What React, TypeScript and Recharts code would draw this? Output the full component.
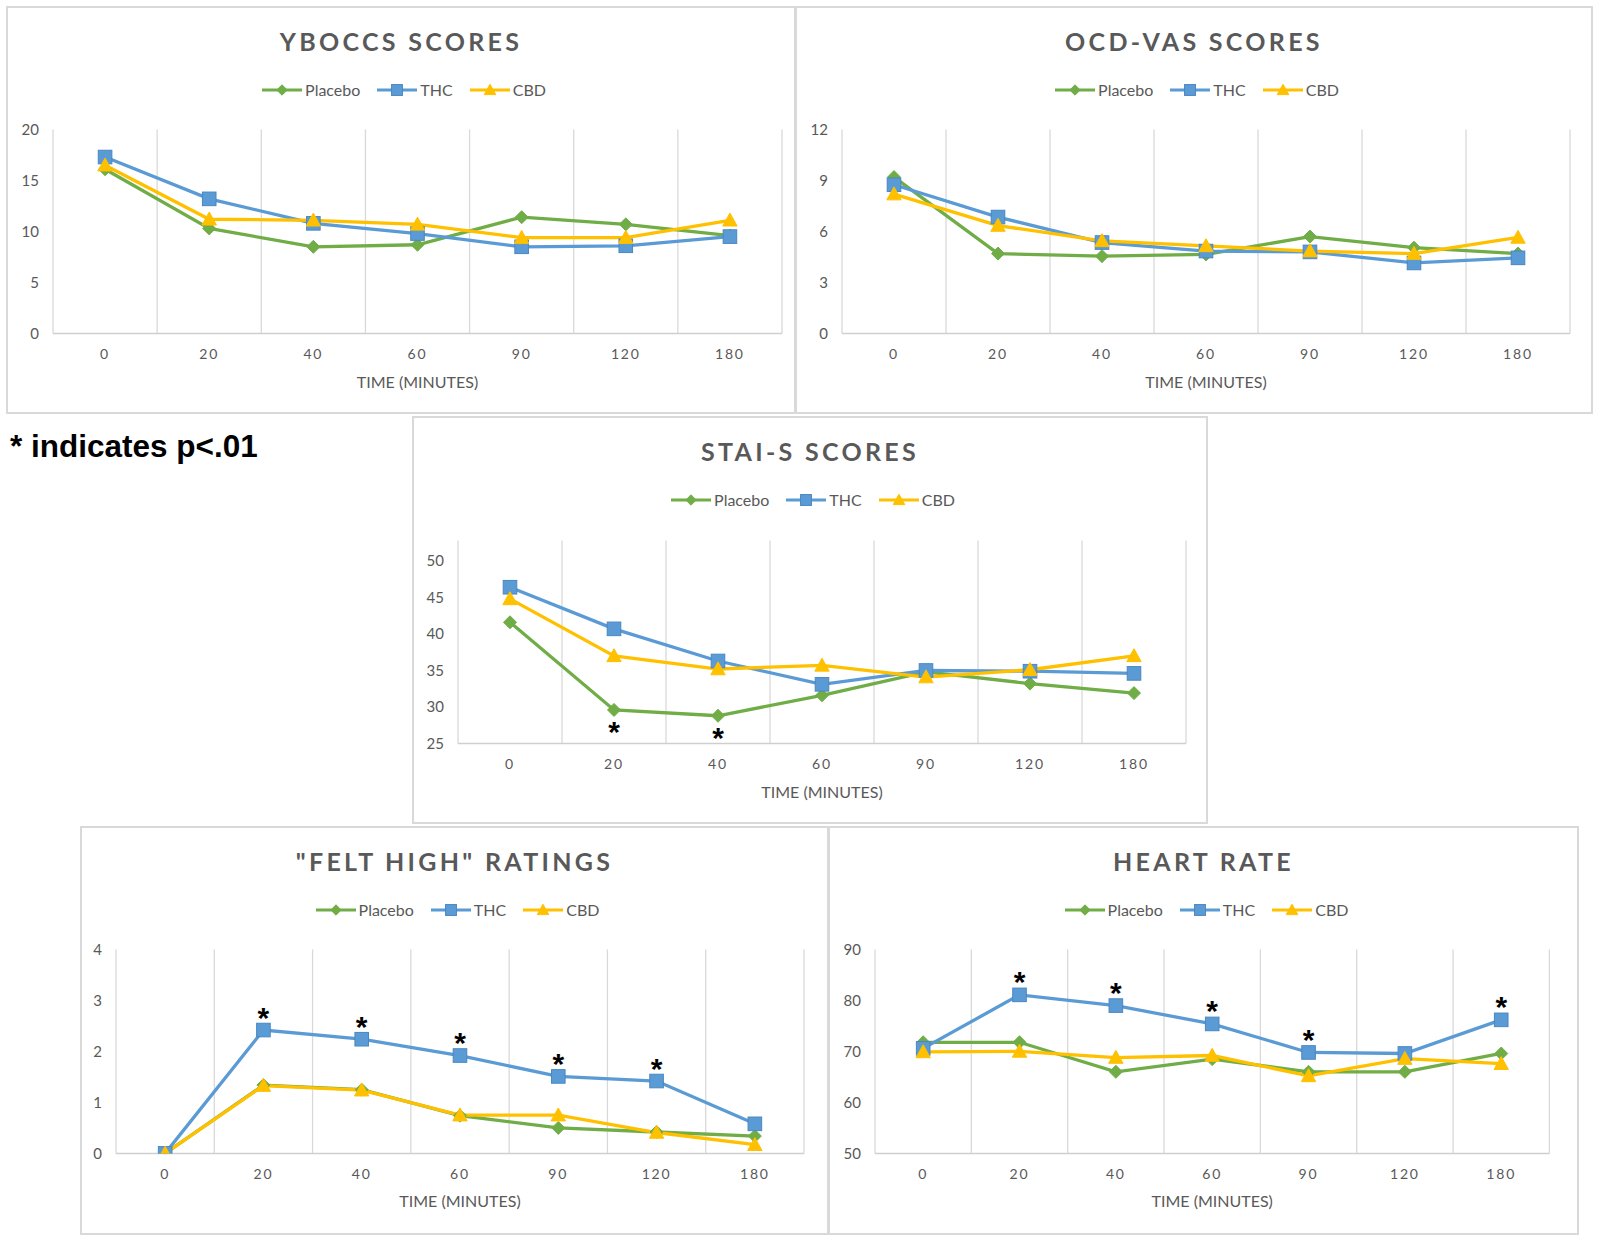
import React from 'react';
import { LineChart, Line, XAxis, YAxis, CartesianGrid } from 'recharts';

// ---------- data ----------
const timeLabels = ['0', '20', '40', '60', '90', '120', '180'];

const yboccsPlacebo = [16.1, 10.3, 8.5, 8.7, 11.4, 10.7, 9.6];
const yboccsTHC = [17.3, 13.2, 10.8, 9.8, 8.5, 8.6, 9.5];
const yboccsCBD = [16.5, 11.2, 11.1, 10.7, 9.4, 9.4, 11.1];

const ocdPlacebo = [9.2, 4.7, 4.55, 4.65, 5.7, 5.05, 4.7];
const ocdTHC = [8.75, 6.85, 5.35, 4.85, 4.8, 4.15, 4.45];
const ocdCBD = [8.2, 6.35, 5.45, 5.15, 4.85, 4.7, 5.65];

const staiPlacebo = [41.6, 29.6, 28.8, 31.6, 34.8, 33.2, 31.9];
const staiTHC = [46.4, 40.7, 36.3, 33.1, 35.0, 34.9, 34.6];
const staiCBD = [44.8, 37.0, 35.2, 35.7, 34.1, 35.1, 37.0];

const highPlacebo = [0, 1.34, 1.25, 0.74, 0.5, 0.42, 0.34];
const highTHC = [0, 2.42, 2.24, 1.92, 1.51, 1.42, 0.58];
const highCBD = [0, 1.33, 1.24, 0.75, 0.75, 0.41, 0.17];

const hrPlacebo = [71.8, 71.8, 66.0, 68.5, 66.0, 66.0, 69.6];
const hrTHC = [70.6, 81.1, 79.0, 75.4, 69.8, 69.6, 76.2];
const hrCBD = [69.9, 70.0, 68.8, 69.2, 65.2, 68.6, 67.6];

// significance flags (p<.01)
const noSig = [0, 0, 0, 0, 0, 0, 0];
const staiPlaceboSig = [0, 1, 1, 0, 0, 0, 0];
const highTHCSig = [0, 1, 1, 1, 1, 1, 0];
const hrTHCSig = [0, 1, 1, 1, 1, 0, 1];

// ---------- styles ----------
const COLORS = { placebo: '#70AD47', thc: '#5B9BD5', cbd: '#FFC000' };
const TEXT = '#595959';
const GRID = '#D9D9D9';
const FONT = 'Lato, "Open Sans", sans-serif';

type Kind = 'diamond' | 'square' | 'triangle';

function Marker({ kind, cx, cy, color, scale = 1 }: { kind: Kind; cx: number; cy: number; color: string; scale?: number }) {
  if (kind === 'diamond') {
    const r = 6.5 * scale;
    return <polygon points={`${cx},${cy - r} ${cx + r},${cy} ${cx},${cy + r} ${cx - r},${cy}`} fill={color} stroke={color} strokeWidth={1} />;
  }
  if (kind === 'square') {
    const s = 6.8 * scale;
    return <rect x={cx - s} y={cy - s} width={2 * s} height={2 * s} fill={color} stroke="#4A87C0" strokeWidth={1} />;
  }
  const t = 7.2 * scale;
  return <polygon points={`${cx},${cy - t} ${cx + t},${cy + t * 0.8} ${cx - t},${cy + t * 0.8}`} fill={color} stroke={color} strokeWidth={1} />;
}

const makeDot = (kind: Kind, color: string, sigKey: string, starPos: 'above' | 'below') => (props: any) => {
  const { cx, cy, payload, index } = props;
  if (cx == null || cy == null) return <g key={`e-${index}`} />;
  const sig = payload && payload[sigKey];
  return (
    <g key={`d-${index}`}>
      <Marker kind={kind} cx={cx} cy={cy} color={color} />
      {sig ? (
        <text
          x={cx}
          y={starPos === 'above' ? cy - 2.5 : cy + 32}
          textAnchor="middle"
          fontFamily='"Liberation Sans", Arial, sans-serif'
          fontWeight={700}
          fontSize={30}
          fill="#000"
        >
          *
        </text>
      ) : null}
    </g>
  );
};

function LegendIcon({ kind, color }: { kind: Kind; color: string }) {
  return (
    <svg width={40} height={14} style={{ display: 'block' }}>
      <line x1={0} y1={7} x2={40} y2={7} stroke={color} strokeWidth={3} />
      <Marker kind={kind} cx={20} cy={7} color={color} scale={0.8} />
    </svg>
  );
}

function HtmlLegend() {
  const items: { name: string; kind: Kind; color: string }[] = [
    { name: 'Placebo', kind: 'diamond', color: COLORS.placebo },
    { name: 'THC', kind: 'square', color: COLORS.thc },
    { name: 'CBD', kind: 'triangle', color: COLORS.cbd },
  ];
  return (
    <div
      style={{
        position: 'absolute', left: 6, right: 0, top: 72, height: 20,
        display: 'flex', justifyContent: 'center', alignItems: 'center',
        fontFamily: FONT, fontSize: 16, color: TEXT,
      }}
    >
      {items.map((it, i) => (
        <div key={it.name} style={{ display: 'flex', alignItems: 'center', marginRight: i < items.length - 1 ? 17 : 0 }}>
          <LegendIcon kind={it.kind} color={it.color} />
          <span style={{ marginLeft: 3, lineHeight: '20px' }}>{it.name}</span>
        </div>
      ))}
    </div>
  );
}

type PanelProps = {
  left: number; top: number; width: number; height: number;
  title: string;
  placebo: number[]; thc: number[]; cbd: number[];
  placeboSig?: number[]; thcSig?: number[];
  starPos?: 'above' | 'below';
  yDomain: [number, number]; yTicks: number[];
  margin: { top: number; right: number; bottom: number; left: number };
};

function Panel(p: PanelProps) {
  const data = timeLabels.map((t, i) => ({
    idx: i,
    time: t,
    placebo: p.placebo[i],
    thc: p.thc[i],
    cbd: p.cbd[i],
    placeboSig: (p.placeboSig || noSig)[i],
    thcSig: (p.thcSig || noSig)[i],
    cbdSig: 0,
  }));
  const starPos = p.starPos || 'above';
  return (
    <div
      style={{
        position: 'absolute', left: p.left, top: p.top, width: p.width, height: p.height,
        border: '2px solid #D9D9D9', boxSizing: 'border-box', background: '#fff',
      }}
    >
      <div
        style={{
          position: 'absolute', left: 0, right: 0, top: 19, height: 28, lineHeight: '28px',
          textAlign: 'center', fontFamily: FONT, fontWeight: 700, fontSize: 25,
          letterSpacing: 3.3, color: TEXT,
        }}
      >
        {p.title}
      </div>
      <HtmlLegend />
      <div style={{ position: 'absolute', left: -2, top: -2 }}>
        <LineChart width={p.width} height={p.height} data={data} margin={p.margin}>
          <CartesianGrid
            horizontal={false}
            vertical
            stroke={GRID}
            strokeWidth={1.3}
            verticalCoordinatesGenerator={({ offset }: any) =>
              Array.from({ length: timeLabels.length + 1 }, (_, k) => offset.left + (k * offset.width) / timeLabels.length)
            }
          />
          <XAxis
            type="number"
            dataKey="idx"
            domain={[-0.5, timeLabels.length - 0.5]}
            ticks={timeLabels.map((_, i) => i)}
            tickFormatter={(v: number) => timeLabels[v]}
            interval={0}
            axisLine={{ stroke: '#CFCFCF', strokeWidth: 1.5 }}
            tickLine={false}
            tickSize={0}
            tickMargin={16}
            height={60}
            tick={{ fill: TEXT, fontSize: 14, fontFamily: FONT, letterSpacing: 1.8 }}
            label={{ value: 'TIME (MINUTES)', position: 'insideBottom', offset: 6, fill: TEXT, fontSize: 16, fontFamily: FONT }}
          />
          <YAxis
            type="number"
            domain={p.yDomain}
            ticks={p.yTicks}
            interval={0}
            allowDataOverflow
            axisLine={false}
            tickLine={false}
            tickSize={0}
            tickMargin={14}
            width={40}
            tick={{ fill: TEXT, fontSize: 15, fontFamily: FONT }}
          />
          <Line
            type="linear"
            dataKey="placebo"
            stroke={COLORS.placebo}
            strokeWidth={3.3}
            dot={makeDot('diamond', COLORS.placebo, 'placeboSig', starPos)}
            activeDot={false}
            isAnimationActive={false}
          />
          <Line
            type="linear"
            dataKey="thc"
            stroke={COLORS.thc}
            strokeWidth={3.3}
            dot={makeDot('square', COLORS.thc, 'thcSig', starPos)}
            activeDot={false}
            isAnimationActive={false}
          />
          <Line
            type="linear"
            dataKey="cbd"
            stroke={COLORS.cbd}
            strokeWidth={3.3}
            dot={makeDot('triangle', COLORS.cbd, 'cbdSig', starPos)}
            activeDot={false}
            isAnimationActive={false}
          />
        </LineChart>
      </div>
    </div>
  );
}

export default function App() {
  return (
    <div style={{ position: 'absolute', left: 0, top: 0, width: 1599, height: 1241, background: '#fff', overflow: 'hidden' }}>
      <Panel
        left={6} top={6} width={790} height={408}
        title="YBOCCS SCORES"
        placebo={yboccsPlacebo} thc={yboccsTHC} cbd={yboccsCBD}
        yDomain={[0, 20]} yTicks={[0, 5, 10, 15, 20]}
        margin={{ top: 123.5, right: 14, bottom: 20.5, left: 7 }}
      />
      <Panel
        left={795} top={6} width={798} height={408}
        title="OCD-VAS SCORES"
        placebo={ocdPlacebo} thc={ocdTHC} cbd={ocdCBD}
        yDomain={[0, 12]} yTicks={[0, 3, 6, 9, 12]}
        margin={{ top: 123.5, right: 23, bottom: 20.5, left: 7 }}
      />
      <div
        style={{
          position: 'absolute', left: 10, top: 430, fontFamily: '"Liberation Sans", Arial, sans-serif',
          fontWeight: 700, fontSize: 31.5, lineHeight: '32px', color: '#000', whiteSpace: 'nowrap',
        }}
      >
        * indicates p&lt;.01
      </div>
      <Panel
        left={412} top={416} width={796} height={408}
        title="STAI-S SCORES"
        placebo={staiPlacebo} thc={staiTHC} cbd={staiCBD}
        placeboSig={staiPlaceboSig} starPos="below"
        yDomain={[25, 52.8]} yTicks={[25, 30, 35, 40, 45, 50]}
        margin={{ top: 124.5, right: 22, bottom: 20.5, left: 6 }}
      />
      <Panel
        left={80} top={826} width={749} height={409}
        title={'"FELT HIGH" RATINGS'}
        placebo={highPlacebo} thc={highTHC} cbd={highCBD}
        thcSig={highTHCSig}
        yDomain={[0, 4]} yTicks={[0, 1, 2, 3, 4]}
        margin={{ top: 123.5, right: 25, bottom: 21.6, left: -4 }}
      />
      <Panel
        left={828} top={826} width={751} height={409}
        title="HEART RATE"
        placebo={hrPlacebo} thc={hrTHC} cbd={hrCBD}
        thcSig={hrTHCSig}
        yDomain={[50, 90]} yTicks={[50, 60, 70, 80, 90]}
        margin={{ top: 123.5, right: 29.6, bottom: 21.6, left: 7 }}
      />
    </div>
  );
}
